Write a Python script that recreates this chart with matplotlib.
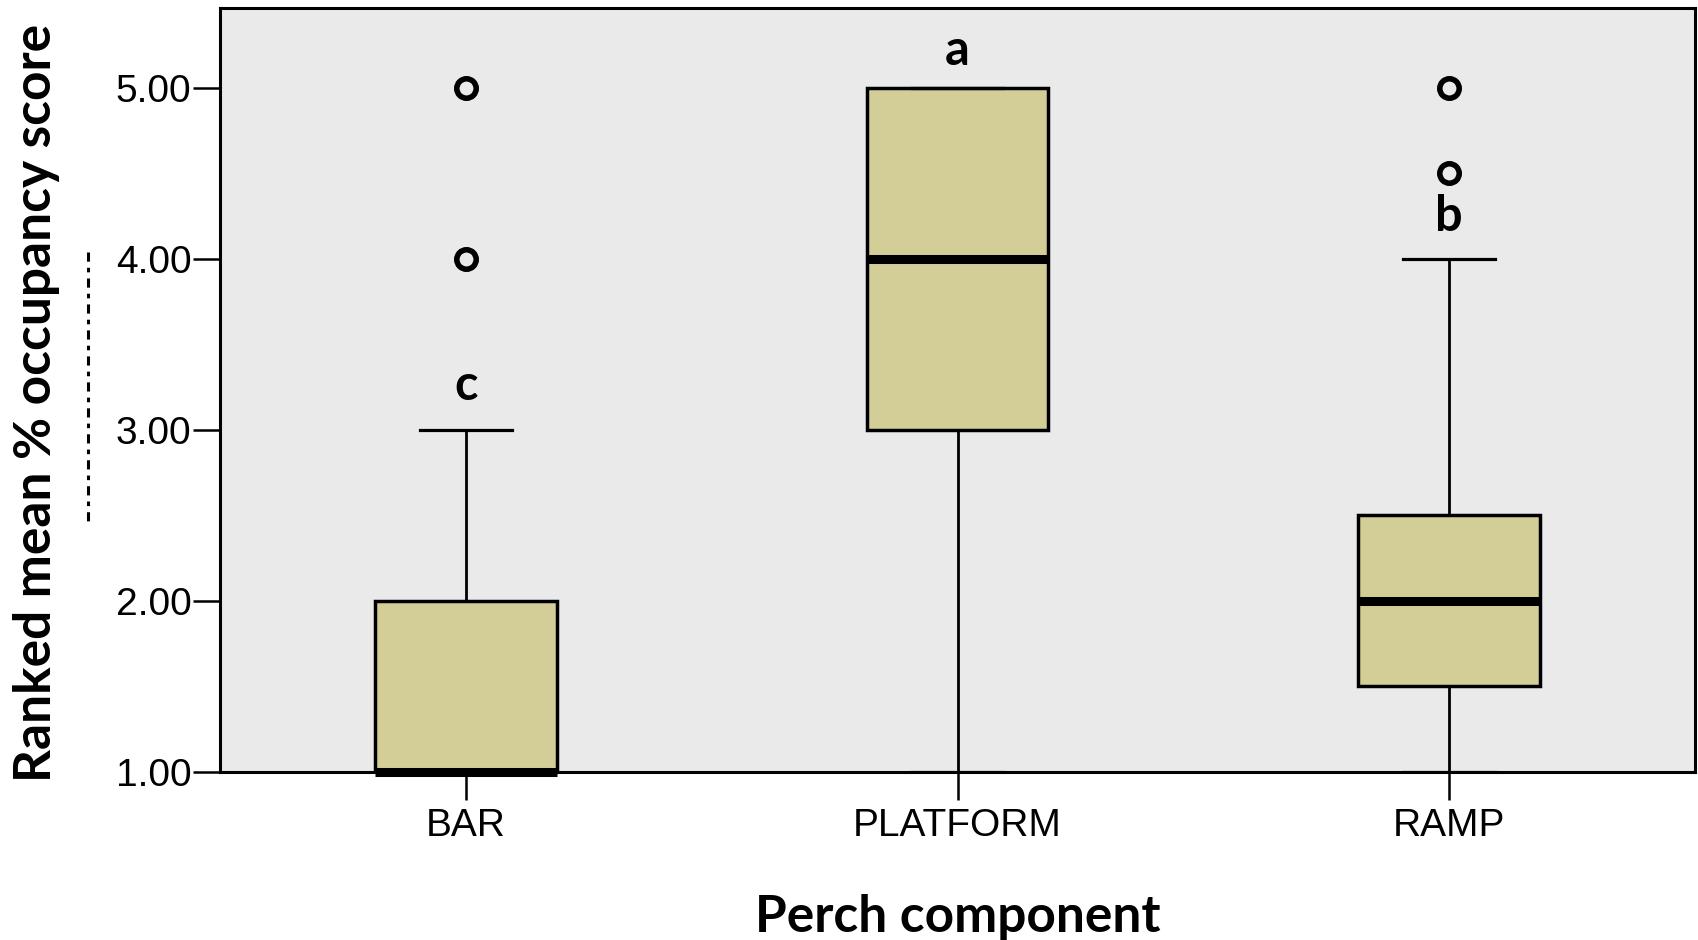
import matplotlib
matplotlib.use("Agg")
import matplotlib.pyplot as plt
from matplotlib.lines import Line2D

categories = ["BAR", "PLATFORM", "RAMP"]
q1 = [1.0, 3.0, 1.5]
medians = [1.0, 4.0, 2.0]
q3 = [2.0, 5.0, 2.5]
whisker_low = [1.0, 1.0, 1.0]
whisker_high = [3.0, 5.0, 4.0]
outliers = [[4.0, 5.0], [], [4.5, 5.0]]
letters = ["c", "a", "b"]
letter_y = [3.26, 5.22, 4.25]
yticks = [1.0, 2.0, 3.0, 4.0, 5.0]
ytick_labels = ["1.00", "2.00", "3.00", "4.00", "5.00"]

fig = plt.figure(figsize=(16.98, 9.40), dpi=100)
ax = fig.add_axes([220/1698, 1-772/940, (1695-220)/1698, (772-7.6)/940])
ax.set_facecolor("#EAEAEA")

stats = []
for i in range(len(categories)):
    stats.append(dict(label=categories[i], q1=q1[i], med=medians[i], q3=q3[i],
                      whislo=whisker_low[i], whishi=whisker_high[i], fliers=outliers[i]))

pos = list(range(len(categories)))
res = ax.bxp(stats, positions=pos, widths=0.37, patch_artist=True, showfliers=True,
             boxprops=dict(facecolor="#D3CE98", edgecolor="black", linewidth=2.5),
             medianprops=dict(color="black", linewidth=6.5, solid_capstyle="butt"),
             whiskerprops=dict(color="black", linewidth=2.0),
             capprops=dict(color="black", linewidth=2.3),
             capwidths=0.187,
             flierprops=dict(marker="o", markersize=14, markerfacecolor="none",
                             markeredgecolor="black", markeredgewidth=4.0, linestyle="none"))
for m in res["medians"]:
    m.set_clip_on(False)
    m.set_zorder(5)

for i, (t, y) in enumerate(zip(letters, letter_y)):
    ax.text(pos[i], y, t, ha="center", va="center", fontsize=35, fontweight="bold",
            family="Lato")

ax.set_xlim(-0.5, 2.5)
ax.set_ylim(1.0, 5.47)
ax.set_xticks(pos)
ax.set_xticklabels(categories, family="Liberation Sans", fontsize=28)
ax.set_yticks(yticks)
ax.set_yticklabels(ytick_labels, family="Liberation Sans", fontsize=28)
ax.tick_params(axis="y", length=19.5, width=1.8, pad=1, direction="out")
ax.tick_params(axis="x", length=20, width=1.8, pad=6, direction="out")
for s in ax.spines.values():
    s.set_linewidth(2.2)
    s.set_color("black")

ax.set_xlabel("Perch component", family="Lato", fontweight="bold", fontsize=37, labelpad=36)
ax.set_ylabel("Ranked mean % occupancy score", family="Lato", fontweight="bold", fontsize=37)
ax.yaxis.set_label_coords(-0.1085, 0.483)

fig.add_artist(Line2D([88/1698, 88/1698], [1-252/940, 1-527/940], transform=fig.transFigure,
                      color="black", linewidth=2.2, linestyle=(0, (3, 2, 1.5, 2))))

fig.savefig("out.png", dpi=100)
